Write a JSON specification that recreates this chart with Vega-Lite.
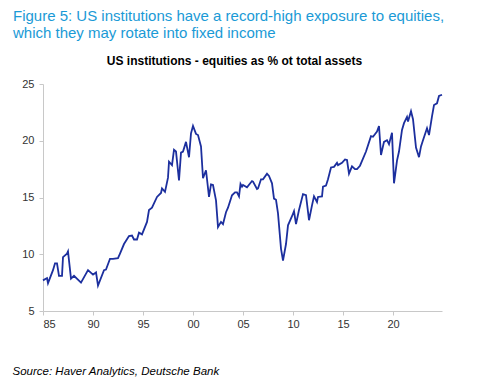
{
  "$schema": "https://vega.github.io/schema/vega-lite/v6.json",
  "padding": {"left": 12, "top": 9, "right": 5, "bottom": 5},
  "background": "white",
  "title": {
    "text": ["Figure 5:  US institutions have a record-high exposure to equities,", "which they may rotate into fixed income"],
    "anchor": "start", "frame": "bounds", "font": "Liberation Sans", "fontSize": 15, "fontWeight": "normal",
    "color": "#1a9ad6", "lineHeight": 17, "offset": 14, "dx": 1
  },
  "vconcat": [
    {
      "title": {"text": "US institutions - equities as % ot total assets", "font": "Liberation Sans", "fontSize": 12, "fontWeight": "bold", "color": "#000000", "anchor": "middle", "offset": 10, "dx": -8},
      "width": 399,
      "height": 227,
      "data": {"values": [
        {"year": 1985.0, "value": 7.7}, {"year": 1985.4, "value": 7.9}, {"year": 1985.5, "value": 7.45},
        {"year": 1986.0, "value": 8.6}, {"year": 1986.2, "value": 9.2}, {"year": 1986.4, "value": 9.2},
        {"year": 1986.6, "value": 8.1}, {"year": 1986.9, "value": 8.1}, {"year": 1987.0, "value": 9.75},
        {"year": 1987.4, "value": 10.05}, {"year": 1987.5, "value": 10.25}, {"year": 1987.8, "value": 7.85},
        {"year": 1988.1, "value": 8.1}, {"year": 1988.8, "value": 7.5}, {"year": 1989.5, "value": 8.6},
        {"year": 1990.0, "value": 8.2}, {"year": 1990.3, "value": 8.4}, {"year": 1990.5, "value": 7.25},
        {"year": 1991.1, "value": 8.6}, {"year": 1991.3, "value": 8.65}, {"year": 1991.7, "value": 9.6},
        {"year": 1992.0, "value": 9.6}, {"year": 1992.5, "value": 9.65}, {"year": 1992.7, "value": 10.05},
        {"year": 1993.1, "value": 10.9}, {"year": 1993.6, "value": 11.6}, {"year": 1993.9, "value": 11.65},
        {"year": 1994.1, "value": 11.3}, {"year": 1994.4, "value": 11.3}, {"year": 1994.6, "value": 11.9},
        {"year": 1994.9, "value": 11.75}, {"year": 1995.4, "value": 12.85}, {"year": 1995.6, "value": 13.9},
        {"year": 1995.9, "value": 14.1}, {"year": 1996.4, "value": 15.05}, {"year": 1996.8, "value": 15.4},
        {"year": 1996.9, "value": 15.8}, {"year": 1997.2, "value": 15.5}, {"year": 1997.5, "value": 16.75},
        {"year": 1997.6, "value": 18.15}, {"year": 1997.9, "value": 17.85}, {"year": 1998.1, "value": 19.2},
        {"year": 1998.3, "value": 19.05}, {"year": 1998.6, "value": 16.5}, {"year": 1998.8, "value": 18.95},
        {"year": 1999.0, "value": 19.05}, {"year": 1999.3, "value": 19.9}, {"year": 1999.6, "value": 18.55},
        {"year": 1999.8, "value": 20.65}, {"year": 2000.0, "value": 21.3}, {"year": 2000.3, "value": 20.6},
        {"year": 2000.5, "value": 20.5}, {"year": 2000.8, "value": 19.5}, {"year": 2001.0, "value": 16.7},
        {"year": 2001.3, "value": 17.4}, {"year": 2001.6, "value": 15.05}, {"year": 2001.8, "value": 16.15},
        {"year": 2002.0, "value": 16.1}, {"year": 2002.3, "value": 14.75}, {"year": 2002.5, "value": 12.4},
        {"year": 2002.8, "value": 12.85}, {"year": 2003.0, "value": 12.65}, {"year": 2003.3, "value": 13.7},
        {"year": 2003.5, "value": 14.1}, {"year": 2003.9, "value": 15.2}, {"year": 2004.2, "value": 15.45},
        {"year": 2004.4, "value": 15.45}, {"year": 2004.6, "value": 15.1}, {"year": 2004.75, "value": 16.2},
        {"year": 2004.9, "value": 15.95}, {"year": 2005.0, "value": 16.1}, {"year": 2005.4, "value": 15.9},
        {"year": 2005.9, "value": 16.45}, {"year": 2006.0, "value": 16.4}, {"year": 2006.4, "value": 15.75},
        {"year": 2006.5, "value": 15.8}, {"year": 2006.8, "value": 16.6}, {"year": 2007.0, "value": 16.6},
        {"year": 2007.4, "value": 17.1}, {"year": 2007.6, "value": 16.9}, {"year": 2007.9, "value": 16.25},
        {"year": 2008.1, "value": 14.9}, {"year": 2008.3, "value": 14.8}, {"year": 2008.5, "value": 13.6},
        {"year": 2008.8, "value": 10.5}, {"year": 2009.0, "value": 9.45}, {"year": 2009.3, "value": 10.9},
        {"year": 2009.5, "value": 12.55}, {"year": 2009.9, "value": 13.35}, {"year": 2010.1, "value": 13.8},
        {"year": 2010.3, "value": 12.65}, {"year": 2010.6, "value": 13.9}, {"year": 2011.0, "value": 15.3},
        {"year": 2011.3, "value": 15.2}, {"year": 2011.6, "value": 13.0}, {"year": 2011.9, "value": 14.3},
        {"year": 2012.1, "value": 15.1}, {"year": 2012.4, "value": 14.6}, {"year": 2012.5, "value": 15.05},
        {"year": 2012.9, "value": 15.1}, {"year": 2013.0, "value": 15.95}, {"year": 2013.3, "value": 16.05},
        {"year": 2013.5, "value": 16.6}, {"year": 2013.8, "value": 17.65}, {"year": 2014.1, "value": 17.7},
        {"year": 2014.4, "value": 18.05}, {"year": 2014.5, "value": 17.85}, {"year": 2014.9, "value": 18.05},
        {"year": 2015.2, "value": 18.35}, {"year": 2015.4, "value": 18.3}, {"year": 2015.6, "value": 17.1},
        {"year": 2015.9, "value": 17.75}, {"year": 2016.2, "value": 17.5}, {"year": 2016.4, "value": 17.5},
        {"year": 2016.7, "value": 17.8}, {"year": 2017.3, "value": 19.05}, {"year": 2017.8, "value": 20.4},
        {"year": 2018.0, "value": 20.35}, {"year": 2018.4, "value": 20.8}, {"year": 2018.6, "value": 21.3},
        {"year": 2018.8, "value": 18.75}, {"year": 2019.1, "value": 19.9}, {"year": 2019.4, "value": 20.05},
        {"year": 2019.6, "value": 19.7}, {"year": 2019.9, "value": 20.7}, {"year": 2020.1, "value": 16.25},
        {"year": 2020.4, "value": 18.25}, {"year": 2020.6, "value": 19.05}, {"year": 2020.9, "value": 20.95},
        {"year": 2021.1, "value": 21.55}, {"year": 2021.4, "value": 22.1}, {"year": 2021.5, "value": 21.7},
        {"year": 2021.8, "value": 22.6}, {"year": 2022.0, "value": 21.9}, {"year": 2022.3, "value": 19.4},
        {"year": 2022.6, "value": 18.55}, {"year": 2022.8, "value": 19.5}, {"year": 2023.0, "value": 20.05},
        {"year": 2023.4, "value": 21.1}, {"year": 2023.6, "value": 20.5}, {"year": 2023.9, "value": 22.15},
        {"year": 2024.1, "value": 23.15}, {"year": 2024.4, "value": 23.3}, {"year": 2024.6, "value": 23.95},
        {"year": 2024.9, "value": 24.05}
      ]},
      "mark": {"type": "line", "color": "#1c2f9e", "strokeWidth": 1.8},
      "encoding": {
        "x": {
          "field": "year", "type": "quantitative",
          "scale": {"domain": [1985, 2024.9], "nice": false, "zero": false},
          "axis": {
            "values": [1985, 1990, 1995, 2000, 2005, 2010, 2015, 2020],
            "labelExpr": "slice(toString(datum.value), 2)",
            "grid": false, "domainColor": "#c8c8c8", "tickColor": "#c8c8c8", "tickSize": 4,
            "labelFont": "Liberation Sans", "labelFontSize": 11, "labelColor": "#333333", "labelPadding": 3,
            "title": "Source: Haver Analytics, Deutsche Bank",
            "titleFont": "Liberation Sans", "titleFontStyle": "italic", "titleFontWeight": "normal",
            "titleFontSize": 11.5, "titleColor": "#000000", "titleAnchor": "start", "titleAlign": "left",
            "titleX": -31, "titleY": 63, "titleBaseline": "alphabetic"
          }
        },
        "y": {
          "field": "value", "type": "quantitative",
          "scale": {"domain": [5, 25], "nice": false, "zero": false},
          "axis": {
            "values": [5, 10, 15, 20, 25], "title": null, "grid": false,
            "domainColor": "#c8c8c8", "tickColor": "#c8c8c8", "tickSize": 4,
            "labelFont": "Liberation Sans", "labelFontSize": 11, "labelColor": "#333333", "labelPadding": 5
          }
        }
      }
    }
  ],
  "config": {"view": {"stroke": null}, "concat": {"spacing": 0}}
}
